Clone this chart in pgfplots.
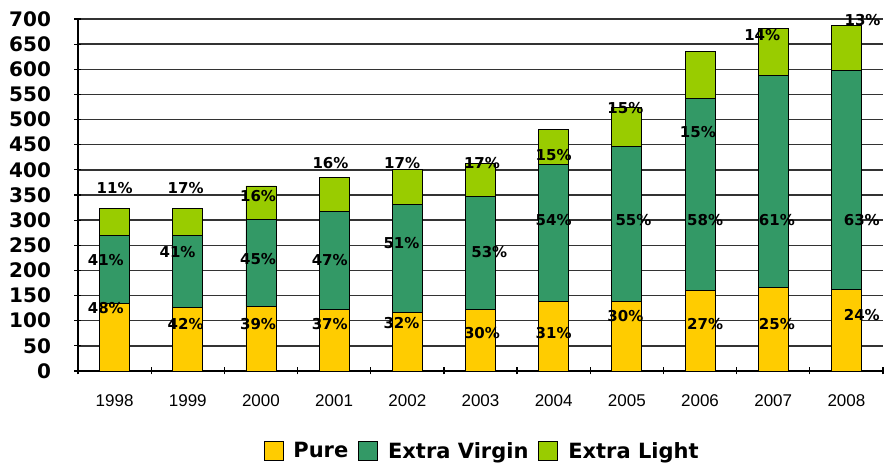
\documentclass[border=0pt]{standalone}
\usepackage{pgfplots}
\usepackage{pgfplotstable}
\pgfplotsset{compat=1.18}
\usepackage{fontspec}
\setmainfont{DejaVu Sans}
\newfontfamily\arialfont{Liberation Sans}
\definecolor{pure}{HTML}{FFCC00}
\definecolor{ev}{HTML}{339966}
\definecolor{el}{HTML}{99CC00}
\pgfplotsset{mylegend/.style={legend image code/.code={\draw[##1,line width=0.8pt] (0pt,-9pt) rectangle (19pt,10pt);}}}
\pgfplotstableread{
x y lab
0 364 11\%
-0.12 221 41\%
-0.12 126 48\%
0.97 364 17\%
0.86 237 41\%
0.97 93 42\%
1.96 348 16\%
1.96 222 45\%
1.96 93 39\%
2.95 413 16\%
2.94 221 47\%
2.94 93 37\%
3.93 413 17\%
3.92 254 51\%
3.92 95 32\%
5.02 413 17\%
5.12 237 53\%
5.02 75 30\%
6.0 429 15\%
6.0 300 54\%
6.0 76 31\%
6.98 522 15\%
7.09 300 55\%
6.98 109 30\%
7.97 476 15\%
8.07 300 58\%
8.07 93 27\%
8.85 668 14\%
9.05 300 61\%
9.05 93 25\%
10.22 698 13\%
10.21 300 63\%
10.21 111 24\%
}\labtable
\begin{document}
\begin{tikzpicture}
\begin{axis}[
  scale only axis, width=805pt, height=352pt,
  ybar stacked, bar width=30pt,
  xmin=-0.5, xmax=10.5, ymin=0, ymax=700,
  ytick={0,50,...,700},
  xtick={-0.5,0.5,...,10.5},
  x tick label as interval,
  xticklabels={1998,1999,2000,2001,2002,2003,2004,2005,2006,2007,2008},
  major tick length=7pt,
  tick align=outside,
  tick style={black, line width=1.2pt},
  ymajorgrids=true,
  major grid style={black!80, line width=1.3pt},
  axis x line=bottom, axis y line=left,
  axis line style={-, black, line width=1.3pt},
  /pgf/number format/assume math mode=true,
  yticklabel style={font=\bfseries\fontsize{20}{20}\selectfont, xshift=-20pt},
  xticklabel style={font=\arialfont\fontsize{17}{17}\selectfont, yshift=-17pt},
  clip=false,
  legend columns=3,
  legend style={at={(0.502,-0.227)}, anchor=center, draw=none,
    font=\bfseries\fontsize{21}{24}\selectfont,
    /tikz/every odd column/.append style={column sep=8pt},
    /tikz/every even column/.append style={column sep=8pt}},
]
\addplot[fill=pure, draw=black, line width=0.8pt, mylegend] coordinates {
(0,135) (1,126) (2,129) (3,123) (4,117) (5,123) (6,138) (7,138) (8,160) (9,166) (10,163)};
\addplot[fill=ev, draw=black, line width=0.8pt, mylegend] coordinates {
(0,135) (1,144) (2,172) (3,194) (4,215) (5,225) (6,272) (7,308) (8,382) (9,422) (10,435)};
\addplot[fill=el, draw=black, line width=0.8pt, mylegend] coordinates {
(0,53) (1,53) (2,67) (3,68) (4,68) (5,65) (6,71) (7,78) (8,93) (9,93) (10,89)};
\legend{Pure, Extra Virgin, Extra Light}
\end{axis}
\begin{axis}[
  scale only axis, width=805pt, height=352pt,
  xmin=-0.5, xmax=10.5, ymin=0, ymax=700,
  hide axis, clip=false,
]
\addplot[only marks, mark=none, nodes near coords, point meta=explicit symbolic,
  every node near coord/.append style={anchor=center, inner sep=0pt,
    font=\bfseries\fontsize{15}{15}\selectfont}]
  table[x=x, y=y, meta=lab] {\labtable};
\end{axis}
\pgfresetboundingbox
\path (current axis.south west) ++(-78pt,-97pt) rectangle ++(884pt,468pt);
\end{tikzpicture}
\end{document}
